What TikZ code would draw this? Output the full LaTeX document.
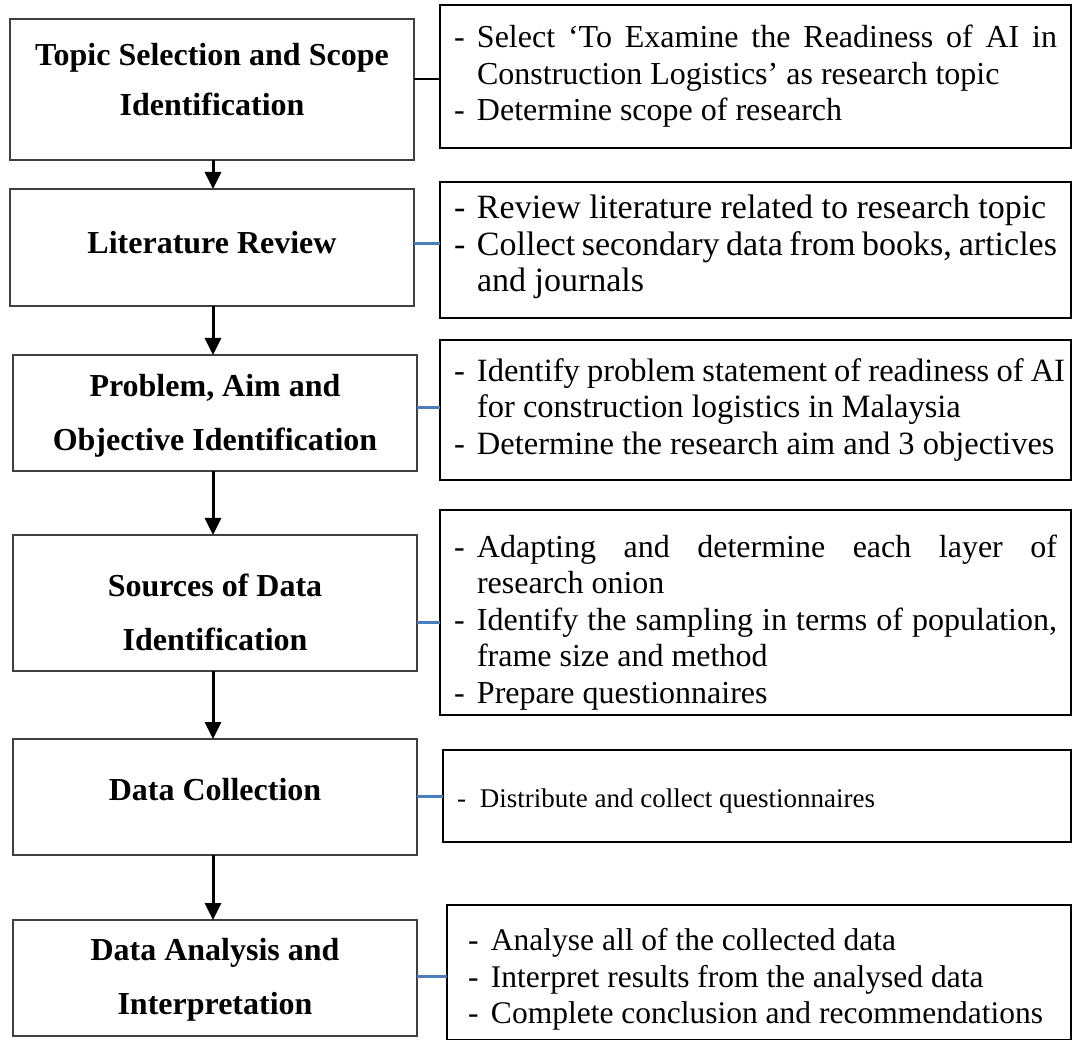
\documentclass[tikz,border=0pt]{standalone}
\usepackage{fontspec}
\setmainfont{Liberation Serif}
\usetikzlibrary{arrows.meta}
\definecolor{lgray}{HTML}{404040}
\definecolor{cblue}{HTML}{4A7EBB}
\newcommand{\itm}[1]{\par\hangindent=23pt\hangafter=1\noindent\makebox[23pt][l]{-}#1}
\newcommand{\rtext}[3]{\parbox{#1}{\fontsize{#2}{36.5}\selectfont\hyphenpenalty=10000\hbadness=10000\hfuzz=30pt #3}}
\tikzset{
  lbox/.style={draw=lgray, line width=2pt, inner sep=0pt, outer sep=0pt},
  ltext/.style={inner sep=0pt, align=center, font=\fontsize{32}{54}\selectfont\bfseries},
  rbox/.style={draw=black, line width=2.4pt, inner sep=0pt, outer sep=0pt},
  flow/.style={line width=3pt, -{Triangle[length=17pt,width=16pt]}},
  blink/.style={draw=cblue, line width=3pt},
  klink/.style={draw=black, line width=2.4pt}
}
\begin{document}
\begin{tikzpicture}[x=1pt,y=-1pt]
\useasboundingbox (0,0) rectangle (1072,1040);
% left boxes
\node[lbox, minimum width=404pt, minimum height=141pt] (L1) at (212,89.5) {};
\node[lbox, minimum width=404pt, minimum height=117pt] (L2) at (212,247.5) {};
\node[lbox, minimum width=404pt, minimum height=116pt] (L3) at (215,413) {};
\node[lbox, minimum width=404pt, minimum height=136pt] (L4) at (215,603) {};
\node[lbox, minimum width=404pt, minimum height=116pt] (L5) at (215,797) {};
\node[lbox, minimum width=404pt, minimum height=116pt] (L6) at (215,978) {};
\node[ltext, font=\fontsize{32}{50}\selectfont\bfseries] (T1) at (212,80) {Topic Selection and Scope\\Identification};
\node[ltext] (T2) at (212,243) {Literature Review};
\node[ltext] (T3) at (215,416) {Problem, Aim and\\Objective Identification};
\node[ltext] (T4) at (215,612) {Sources of Data\\Identification};
\node[ltext] (T5) at (215,790) {Data Collection};
\node[ltext] (T6) at (215,980) {Data Analysis and\\Interpretation};
% right boxes
\node[rbox, minimum width=631pt, minimum height=143pt] (R1) at (755.5,76.5) {\rtext{603pt}{32}{%
\itm{Select `To Examine the Readiness of AI in\linebreak Construction Logistics' as research topic}
\itm{Determine scope of research}}};
\node[rbox, minimum width=631pt, minimum height=136pt] (R2) at (755.5,250) {\rtext{603pt}{34}{\vspace*{-6pt}%
\itm{Review literature related to research topic}
\itm{Collect secondary data from books, articles\linebreak and journals}}};
\node[rbox, minimum width=631pt, minimum height=140pt] (R3) at (755.5,410) {\rtext{603pt}{32.5}{%
\itm{\makebox[588pt][s]{Identify problem statement of readiness of AI}\linebreak for construction logistics in Malaysia}
\itm{Determine the research aim and 3 objectives}}};
\node[rbox, minimum width=631pt, minimum height=205pt] (R4) at (755.5,612.5) {\rtext{603pt}{32}{\vspace*{20pt}%
\itm{Adapting and determine each layer of\linebreak research onion}
\itm{Identify the sampling in terms of population,\linebreak frame size and method}
\itm{Prepare questionnaires}}};
\node[rbox, minimum width=628pt, minimum height=92pt] (R5) at (757,796) {\rtext{600pt}{27}{\vspace*{10pt}%
\itm{Distribute and collect questionnaires}}};
\node[rbox, minimum width=624pt, minimum height=135pt] (R6) at (759,972.5) {\rtext{582pt}{31.5}{\vspace*{14pt}%
\itm{Analyse all of the collected data}
\itm{Interpret results from the analysed data}
\itm{Complete conclusion and recommendations}}};
% flow arrows
\draw[flow] (L1.south -| 213,0) -- (L2.north -| 213,0);
\draw[flow] (L2.south -| 213,0) -- (L3.north -| 213,0);
\draw[flow] (L3.south -| 213,0) -- (L4.north -| 213,0);
\draw[flow] (L4.south -| 213,0) -- (L5.north -| 213,0);
\draw[flow] (L5.south -| 213,0) -- (L6.north -| 213,0);
% side links
\draw[klink] (L1.east |- 0,79) -- (R1.west |- 0,79);
\draw[blink] (L2.east |- 0,244) -- (R2.west |- 0,244);
\draw[blink] (L3.east |- 0,408) -- (R3.west |- 0,408);
\draw[blink] (L4.east |- 0,622) -- (R4.west |- 0,622);
\draw[blink] (L5.east |- 0,796) -- (R5.west |- 0,796);
\draw[blink] (L6.east |- 0,976) -- (R6.west |- 0,976);
\end{tikzpicture}
\end{document}
